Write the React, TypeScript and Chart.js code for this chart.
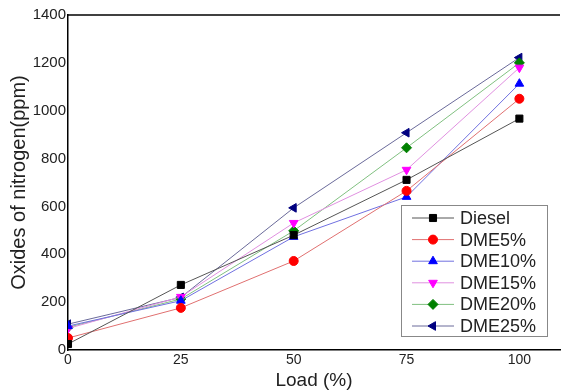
import React, { useEffect, useRef } from 'react';
import { Chart, registerables } from 'chart.js';
import { drawPoint } from 'chart.js/helpers';

Chart.register(...registerables);

const loads = [0, 25, 50, 75, 100];
const xTicks = [0, 25, 50, 75, 100];
const diesel = [25, 272, 480, 711, 967];
const dme5 = [50, 176, 372, 665, 1050];
const dme10 = [100, 206, 473, 640, 1113];
const dme15 = [90, 222, 531, 753, 1180];
const dme20 = [95, 213, 498, 845, 1200];
const dme25 = [108, 220, 594, 908, 1222];

const seriesNames = ['Diesel', 'DME5%', 'DME10%', 'DME15%', 'DME20%', 'DME25%'];
const seriesValues = [diesel, dme5, dme10, dme15, dme20, dme25];
const lineColors = ['#555555', '#e07070', '#7070e0', '#e090e0', '#80c080', '#6a6a9a'];
const markerColors = ['#000000', '#ff0000', '#0000ff', '#ff00ff', '#008000', '#000080'];
const markerStyles = ['rect', 'circle', 'triangle', 'triangle', 'rectRot', 'triangle'];
const markerRotations = [0, 0, 0, 180, 0, 270];
const markerRadii = [5, 4.5, 5, 5, 5, 5];

const FONT = "'Liberation Sans', Arial, sans-serif";

const framePlugin = {
  id: 'frame',
  afterDraw(chart: any) {
    const { ctx, chartArea } = chart;
    ctx.save();
    ctx.strokeStyle = '#000';
    ctx.lineWidth = 1.5;
    ctx.beginPath();
    ctx.moveTo(chartArea.left, chartArea.top);
    ctx.lineTo(chartArea.right, chartArea.top);
    ctx.stroke();

    // legend box inside plot
    const bx = chartArea.left + 333;
    const by = chartArea.top + 190;
    const bw = 146;
    const bh = 131;
    ctx.fillStyle = '#fff';
    ctx.fillRect(bx, by, bw, bh);
    ctx.strokeStyle = '#888';
    ctx.lineWidth = 1;
    ctx.strokeRect(bx + 0.5, by + 0.5, bw, bh);
    ctx.font = `18px ${FONT}`;
    ctx.textBaseline = 'middle';
    ctx.textAlign = 'left';
    chart.data.datasets.forEach((ds: any, i: number) => {
      const y = by + 13 + i * 21.6;
      ctx.strokeStyle = ds.borderColor;
      ctx.lineWidth = 1;
      ctx.beginPath();
      ctx.moveTo(bx + 11, y);
      ctx.lineTo(bx + 53, y);
      ctx.stroke();
      ctx.fillStyle = ds.pointBackgroundColor;
      ctx.strokeStyle = ds.pointBorderColor;
      drawPoint(ctx, { pointStyle: ds.pointStyle, rotation: ds.pointRotation, radius: ds.pointRadius, borderWidth: 1 }, bx + 32, y);
      ctx.fillStyle = '#222';
      ctx.fillText(ds.label, bx + 59, y + 1);
    });
    ctx.restore();
  },
};

export default function App() {
  const ref = useRef<HTMLCanvasElement>(null);
  useEffect(() => {
    document.body.style.margin = '0';
    const canvas = ref.current!;
    const chart = new Chart(canvas, {
      type: 'line',
      data: {
        labels: loads,
        datasets: seriesNames.map((name, i) => ({
          label: name,
          data: loads.map((x, j) => ({ x, y: seriesValues[i][j] })),
          borderColor: lineColors[i],
          borderWidth: 1,
          pointStyle: markerStyles[i],
          pointRotation: markerRotations[i],
          pointRadius: markerRadii[i],
          pointBackgroundColor: markerColors[i],
          pointBorderColor: markerColors[i],
          pointBorderWidth: 1,
          tension: 0,
          fill: false,
        })),
      },
      options: {
        responsive: false,
        animation: false,
        layout: { padding: { top: 15, right: 0, left: 0, bottom: 0 } },
        plugins: { legend: { display: false }, tooltip: { enabled: false } },
        scales: {
          x: {
            type: 'linear',
            min: 0,
            max: 109,
            afterBuildTicks: (axis: any) => {
              axis.ticks = xTicks.map((v) => ({ value: v }));
            },
            afterFit: (axis: any) => {
              axis.height = 42;
            },
            grid: { display: false, drawTicks: false },
            border: { display: true, color: '#000', width: 1.5 },
            ticks: { color: '#222', font: { family: FONT, size: 14 }, padding: 2, maxRotation: 0, callback: (v: any) => String(v) },
            title: { display: true, text: 'Load (%)', color: '#222', font: { family: FONT, size: 19 }, padding: { top: 1, bottom: 0 } },
          },
          y: {
            min: 0,
            max: 1400,
            afterFit: (axis: any) => {
              axis.width = 68;
            },
            grid: { display: false, drawTicks: false },
            border: { display: true, color: '#000', width: 1.5 },
            ticks: { stepSize: 200, color: '#222', font: { family: FONT, size: 15 }, padding: 2, callback: (v: any) => String(v) },
            title: { display: true, text: 'Oxides of nitrogen(ppm)', color: '#222', font: { family: FONT, size: 20 }, padding: { top: 7, bottom: 4 } },
          },
        },
      },
      plugins: [framePlugin],
    } as any);
    return () => chart.destroy();
  }, []);
  return (
    <div style={{ width: 566, height: 392 }}>
      <canvas ref={ref} width={566} height={392} style={{ display: 'block' }} />
    </div>
  );
}
